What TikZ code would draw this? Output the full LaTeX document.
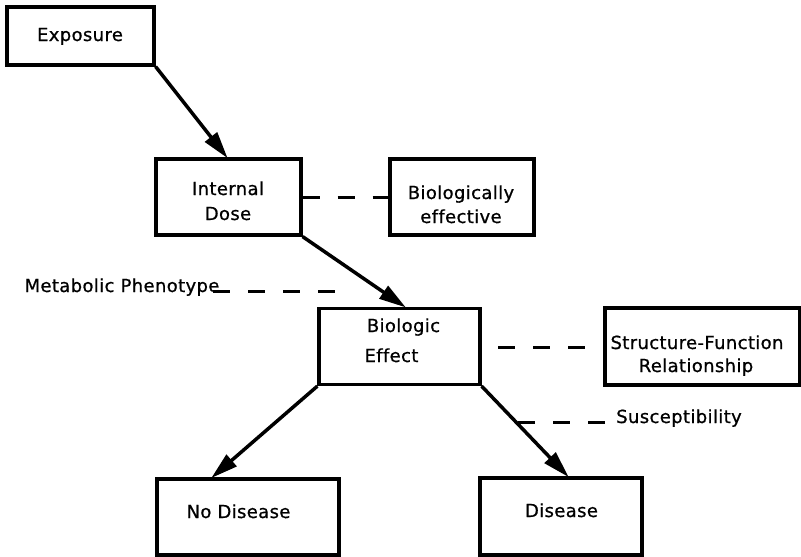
\documentclass[tikz,border=0pt]{standalone}
\usepackage{fontspec}
\setmainfont{DejaVu Sans}[LetterSpace=2,Ligatures=NoCommon,FakeBold=0.8]
\usetikzlibrary{arrows.meta}
\begin{document}
\begin{tikzpicture}[x=1pt,y=-1pt,
  box/.style={draw,line width=3.2pt,inner sep=0pt},
  lbl/.style={inner sep=0pt,anchor=base,font=\fontsize{18}{18}\selectfont},
  flow/.style={line width=3.5pt,-{Triangle[length=27pt,width=15pt]},shorten >=-1pt},
  dsh/.style={line width=3pt,dash pattern=on 17pt off 18pt}]
\useasboundingbox (0,0) rectangle (801,557);
% boxes
\node[box,minimum width=147pt,minimum height=58pt] (exp) at (80.5,36) {};
\node[box,minimum width=145pt,minimum height=76pt] (dose) at (228.5,197) {};
\node[box,minimum width=144pt,minimum height=76pt] (bioeff) at (462,197) {};
\node[box,minimum width=161pt,minimum height=76pt] (beff) at (399.5,346.5) {};
\node[box,minimum width=195pt,minimum height=77pt] (sf) at (702.5,346.5) {};
\node[box,minimum width=182pt,minimum height=76pt] (nd) at (248,517) {};
\node[box,minimum width=162pt,minimum height=77pt] (dis) at (561,516.5) {};
% texts
\node[lbl] (t1) at (80,41) {Exposure};
\node[lbl] (t2) at (228,195) {Internal};
\node[lbl] (t3) at (228,220) {Dose};
\node[lbl] (t4) at (461,199) {Biologically};
\node[lbl] (t5) at (461,223) {effective};
\node[lbl] (t6) at (403.5,332) {Biologic};
\node[lbl] (t7) at (391.5,362) {Effect};
\node[lbl] (t8) at (697,349) {Structure-Function};
\node[lbl] (t9) at (696,372) {Relationship};
\node[lbl] (t10) at (238.5,518) {No Disease};
\node[lbl] (t11) at (561.5,517) {Disease};
\node[lbl] (t12) at (122,292) {Metabolic Phenotype};
\node[lbl] (t13) at (679,423) {Susceptibility};
% arrows
\draw[flow] (exp.south east) -- ([xshift=-1.5pt]dose.north);
\draw[flow] (dose.south east) -- ([xshift=5.5pt]beff.north);
\draw[flow] (beff.south west) -- ([xshift=-36pt]nd.north);
\draw[flow] (beff.south east) -- ([xshift=7pt]dis.north);
% dashed links
\draw[dsh] (dose.east) -- (bioeff.west);
\coordinate (m1) at (213,291);
\coordinate (m2) at (337,291);
\draw[dsh] (m1) -- (m2);
\coordinate (s1) at (498,347);
\coordinate (s2) at (588,347);
\draw[dsh] (s1) -- (s2);
\coordinate (u1) at (518,422);
\coordinate (u2) at (607,422);
\draw[dsh] (u1) -- (u2);
\end{tikzpicture}
\end{document}
